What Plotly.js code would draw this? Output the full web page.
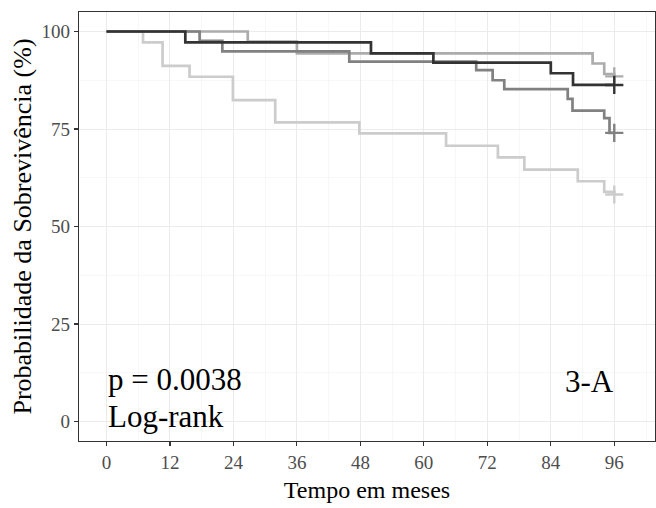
<!DOCTYPE html>
<html>
<head>
<meta charset="utf-8">
<script src="https://cdn.plot.ly/plotly-3.0.1.min.js"></script>
<style>html,body{margin:0;padding:0;background:#fff;}#chart{width:656px;height:508px;}</style>
</head>
<body>
<div id="chart"></div>
<script>
// Kaplan-Meier step curves (time in months, survival in %)
const timeA = [0, 14.9, 50, 61.8, 84, 88.2, 96];
const survA = [100, 97.2, 94.4, 92.0, 89.3, 86.3, 86.3];

const timeB = [0, 17.6, 21.9, 45.9, 69.9, 73, 75.2, 87.2, 88.1, 94.1, 95.1, 96];
const survB = [100, 97.6, 94.9, 92.3, 90.1, 87.5, 85.2, 82.7, 79.7, 77.8, 74.0, 74.0];

const timeC = [0, 26.7, 36, 91.9, 94.1, 96];
const survC = [100, 97.4, 94.4, 91.8, 89.1, 88.5];

const timeD = [0, 6.9, 10.6, 15.7, 23.9, 31.9, 47.8, 64.2, 74, 79, 89.1, 94.1, 96];
const survD = [100, 97.2, 91.2, 88.4, 82.4, 76.7, 73.9, 70.7, 67.7, 64.6, 61.6, 58.9, 58.2];

const xTicks = [0, 12, 24, 36, 48, 60, 72, 84, 96];
const xMinor = [6, 18, 30, 42, 54, 66, 78, 90, 102];
const yTicks = [0, 25, 50, 75, 100];
const yMinor = [12.5, 37.5, 62.5, 87.5];

const curves = [
  {t: timeD, s: survD, c: '#CCCCCC'},
  {t: timeC, s: survC, c: '#ACACAC'},
  {t: timeB, s: survB, c: '#818181'},
  {t: timeA, s: survA, c: '#333333'}
];

const traces = [];
curves.forEach(cv => {
  traces.push({x: cv.t, y: cv.s, type: 'scatter', mode: 'lines', line: {shape: 'hv', color: cv.c, width: 2.7}, hoverinfo: 'skip', showlegend: false});
});
curves.forEach(cv => {
  const n = cv.t.length - 1;
  traces.push({x: [cv.t[n]], y: [cv.s[n]], type: 'scatter', mode: 'markers', marker: {symbol: 'cross-thin', size: 13, line: {color: cv.c, width: 2.4}}, hoverinfo: 'skip', showlegend: false});
});

const font = 'Liberation Serif, Times New Roman, serif';
const layout = {
  width: 656, height: 508,
  margin: {l: 79, r: 1, t: 12, b: 67},
  paper_bgcolor: '#fff', plot_bgcolor: '#fff',
  font: {family: font, color: '#000'},
  showlegend: false,
  xaxis: {
    range: [-5.2, 103.7], tickmode: 'array', tickvals: xTicks, ticktext: xTicks.map(String),
    ticks: 'outside', ticklen: 4, tickwidth: 1.1, tickcolor: '#333',
    tickfont: {family: font, size: 19, color: '#4D4D4D'},
    showgrid: true, gridcolor: '#EBEBEB', gridwidth: 1,
    minor: {tickmode: 'array', tickvals: xMinor, showgrid: true, gridcolor: '#F2F2F2', gridwidth: 0.6, ticks: ''},
    showline: true, linecolor: '#333', linewidth: 1.1, mirror: true, zeroline: false,
    title: {text: 'Tempo em meses', font: {family: font, size: 24, color: '#000'}, standoff: 9}
  },
  yaxis: {
    range: [-5, 105], tickmode: 'array', tickvals: yTicks, ticktext: yTicks.map(String),
    ticks: 'outside', ticklen: 4, tickwidth: 1.1, tickcolor: '#333',
    tickfont: {family: font, size: 19, color: '#4D4D4D'},
    showgrid: true, gridcolor: '#EBEBEB', gridwidth: 1,
    minor: {tickmode: 'array', tickvals: yMinor, showgrid: true, gridcolor: '#F2F2F2', gridwidth: 0.6, ticks: ''},
    showline: true, linecolor: '#333', linewidth: 1.1, mirror: true, zeroline: false,
    title: {text: 'Probabilidade da Sobrevivência (%)', font: {family: font, size: 26, color: '#000'}, standoff: 2}
  },
  annotations: [
    {xref: 'x', yref: 'y', x: 0, y: 10.8, xanchor: 'left', yanchor: 'middle', text: 'p = 0.0038', showarrow: false, borderpad: 0, font: {family: font, size: 31, color: '#000'}},
    {xref: 'x', yref: 'y', x: 0, y: 1.3, xanchor: 'left', yanchor: 'middle', text: 'Log-rank', showarrow: false, borderpad: 0, font: {family: font, size: 31, color: '#000'}},
    {xref: 'x', yref: 'y', x: 91.3, y: 10.3, xanchor: 'center', yanchor: 'middle', text: '3-A', showarrow: false, borderpad: 0, font: {family: font, size: 31, color: '#000'}}
  ]
};

Plotly.newPlot('chart', traces, layout, {displayModeBar: false, staticPlot: true});
</script>
</body>
</html>
